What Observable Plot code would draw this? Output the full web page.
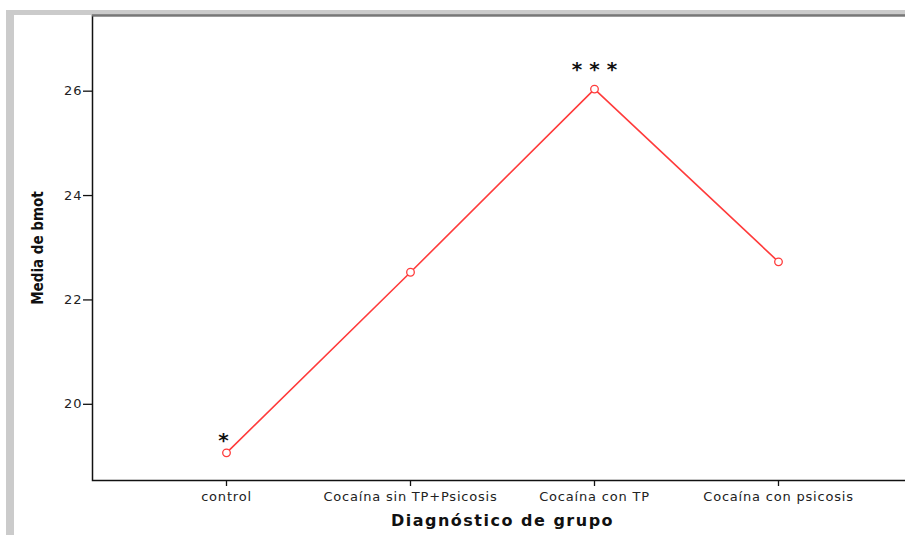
<!DOCTYPE html>
<html>
<head>
<meta charset="utf-8">
<script src="https://cdn.jsdelivr.net/npm/d3@7"></script>
<script src="https://cdn.jsdelivr.net/npm/@observablehq/plot@0.6"></script>
<style>
  html, body { margin: 0; padding: 0; background: #fff; }
  #wrap { position: relative; width: 905px; height: 535px; overflow: hidden; }
  #bandTop { position: absolute; left: 6px; top: 10px; width: 899px; height: 5px; background: #cbcbcb; }
  #bandLeft { position: absolute; left: 6px; top: 10px; width: 8px; height: 525px; background: #cbcbcb; }
  #chart { position: absolute; left: 0; top: 0; width: 912px; height: 535px; }
  #chart svg { max-width: none !important; }
  .tickx text { letter-spacing: 0.8px; }
  .ticky text { letter-spacing: 1px; }
</style>
</head>
<body>
<div id="wrap">
  <div id="bandTop"></div>
  <div id="bandLeft"></div>
  <div id="chart"></div>
</div>
<script>
const groups = ["control", "Cocaína sin TP+Psicosis", "Cocaína con TP", "Cocaína con psicosis"];
const means = [19.07, 22.53, 26.04, 22.73];
const significance = ["*", "", "* * *", ""];
const yTicks = [20, 22, 24, 26];
const xTitle = "Diagnóstico de grupo";
const yTitle = "Media de bmot";

const data = groups.map((g, i) => ({group: g, mean: means[i], sig: significance[i]}));
const red = "#ff3b3b";
const yDomain = [18.54, 27.45];

const chart = Plot.plot({
  width: 912,
  height: 535,
  marginTop: 15,
  marginLeft: 92,
  marginRight: 0,
  marginBottom: 55,
  style: {fontFamily: "DejaVu Sans, sans-serif", fontSize: "13px", color: "#222", background: "transparent"},
  x: {type: "point", domain: groups, padding: 0.72},
  y: {domain: yDomain},
  marks: [
    Plot.frame({stroke: "#111", strokeWidth: 1.5}),
    Plot.ruleY([yDomain[1]], {stroke: "#777", strokeWidth: 2}),
    Plot.axisY({ticks: yTicks, tickSize: 9, tickPadding: 1, label: null, stroke: "#111", strokeWidth: 1.3, fill: "#222", className: "ticky"}),
    Plot.axisX({tickSize: 6, tickPadding: 5, label: null, stroke: "#111", strokeWidth: 1.3, fill: "#222", className: "tickx"}),
    Plot.line(data, {x: "group", y: "mean", stroke: red, strokeWidth: 1.6}),
    Plot.dot(data, {x: "group", y: "mean", r: 3.8, stroke: red, strokeWidth: 1.3, fill: "white"}),
    Plot.text(data.filter(d => d.sig === "*"), {x: "group", y: "mean", text: "sig", dx: -3, dy: -12, fontSize: 20, fontWeight: "bold", fill: "#111"}),
    Plot.text(data.filter(d => d.sig.length > 1), {x: "group", y: "mean", text: "sig", dy: -19, fontSize: 20, fontWeight: "bold", fill: "#111"}),
    Plot.text([xTitle], {frameAnchor: "bottom", textAnchor: "middle", lineAnchor: "middle", dy: 40, fontSize: 16, fontWeight: "bold", fill: "#111", fontFamily: "DejaVu Sans, sans-serif", className: "xtitle"}),
    Plot.text([yTitle], {frameAnchor: "left", textAnchor: "middle", lineAnchor: "middle", dx: -54, rotate: -90, fontSize: 15, fontWeight: "bold", fill: "#111", fontFamily: "Liberation Sans Narrow, DejaVu Sans Condensed, sans-serif"})
  ]
});
document.getElementById("chart").appendChild(chart);
d3.select(chart).selectAll(".xtitle text").style("letter-spacing", "1.5px");
</script>
</body>
</html>
